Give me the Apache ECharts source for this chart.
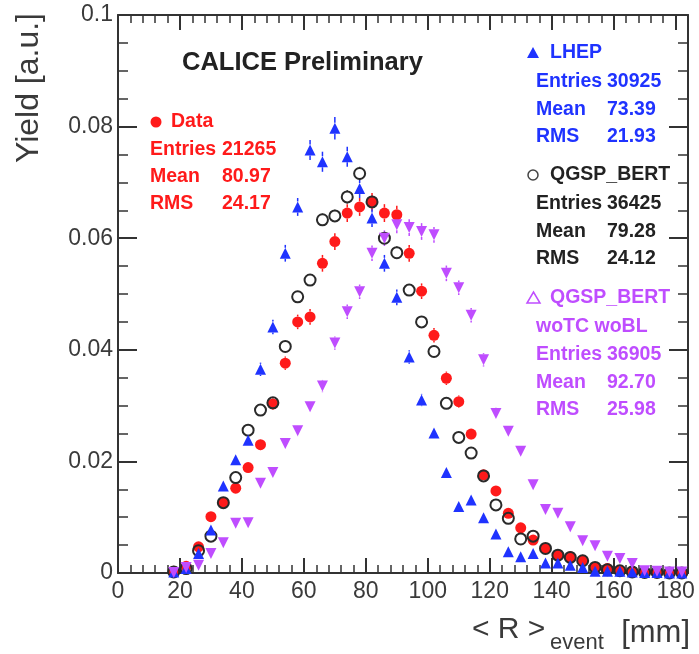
<!DOCTYPE html>
<html>
<head>
<meta charset="utf-8">
<script src="https://cdn.jsdelivr.net/npm/echarts@6/dist/echarts.min.js"></script>
<style>
  html, body { margin: 0; padding: 0; background: #ffffff; }
  #chart { width: 699px; height: 654px; }
</style>
</head>
<body>
<div id="chart"></div>
<script>
// Bin centres of the <R>_event histograms (4 mm bins)
const binCenters = [18, 22, 26, 30, 34, 38, 42, 46, 50, 54, 58, 62, 66, 70, 74, 78, 82, 86, 90, 94, 98,
  102, 106, 110, 114, 118, 122, 126, 130, 134, 138, 142, 146, 150, 154, 158, 162, 166, 170, 174, 178, 182];

// Data
const dataYield = [0.0003, 0.0012, 0.0047, 0.0101, 0.0126, 0.0152, 0.0189, 0.0230, 0.0303,
  0.0376, 0.0450, 0.0459, 0.0555, 0.0594, 0.0645, 0.0656, 0.0665,
  0.0645, 0.0642, 0.0573, 0.0505, 0.0426, 0.0349, 0.0307, 0.0249,
  0.0176, 0.0147, 0.0107, 0.0081, 0.0059, 0.0044, 0.0032, 0.0029,
  0.0023, 0.0010, 0.0008, 0.0004, 0.0003, 0.0002, 0.0001, 0.0001, 0.0000];
const dataErr = [0.0001, 0.0002, 0.0004, 0.0006, 0.0007, 0.0008, 0.0009, 0.0010, 0.0011, 0.0012,
  0.0013, 0.0014, 0.0015, 0.0015, 0.0016, 0.0016, 0.0016, 0.0016, 0.0016, 0.0015,
  0.0014, 0.0013, 0.0012, 0.0011, 0.0010, 0.0009, 0.0008, 0.0007, 0.0006, 0.0005,
  0.0004, 0.0004, 0.0003, 0.0003, 0.0002, 0.0002, 0.0001, 0.0001, 0.0001, 0, 0, 0];

// LHEP
const lhepYield = [0.0002, 0.0008, 0.0035, 0.0077, 0.0156, 0.0203, 0.0238, 0.0365, 0.0441,
  0.0573, 0.0656, 0.0758, 0.0737, 0.0797, 0.0746, 0.0689, 0.0636,
  0.0555, 0.0494, 0.0387, 0.0310, 0.0251, 0.0180, 0.0119, 0.0131,
  0.0099, 0.0070, 0.0038, 0.0029, 0.0035, 0.0018, 0.0018, 0.0014,
  0.0010, 0.0003, 0.0003, 0.0003, 0.0002, 0.0001, 0.0001, 0.0000, 0.0000];
const lhepErr = [0.0001, 0.0002, 0.0004, 0.0006, 0.0008, 0.0009, 0.0010, 0.0012, 0.0013, 0.0015,
  0.0016, 0.0018, 0.0018, 0.0020, 0.0018, 0.0017, 0.0016, 0.0015, 0.0014, 0.0012,
  0.0011, 0.0009, 0.0008, 0.0006, 0.0007, 0.0006, 0.0005, 0.0004, 0.0003, 0.0004,
  0.0002, 0.0002, 0.0002, 0.0001, 0.0001, 0.0001, 0.0001, 0, 0, 0, 0, 0];

// QGSP_BERT
const bertYield = [0.0002, 0.0008, 0.0040, 0.0066, 0.0126, 0.0171, 0.0256, 0.0292, 0.0305,
  0.0406, 0.0495, 0.0525, 0.0633, 0.0640, 0.0674, 0.0716, 0.0665,
  0.0600, 0.0574, 0.0507, 0.0450, 0.0397, 0.0304, 0.0243, 0.0215,
  0.0174, 0.0122, 0.0098, 0.0061, 0.0066, 0.0044, 0.0032, 0.0028,
  0.0022, 0.0010, 0.0006, 0.0004, 0.0002, 0.0001, 0.0001, 0.0000, 0.0000];
const bertErr = [0.0001, 0.0002, 0.0003, 0.0004, 0.0005, 0.0006, 0.0007, 0.0008, 0.0008, 0.0009,
  0.0010, 0.0010, 0.0011, 0.0011, 0.0012, 0.0012, 0.0011, 0.0011, 0.0011, 0.0010,
  0.0010, 0.0009, 0.0008, 0.0007, 0.0007, 0.0006, 0.0005, 0.0005, 0.0004, 0.0004,
  0.0003, 0.0003, 0.0002, 0.0002, 0.0001, 0.0001, 0.0001, 0.0001, 0, 0, 0, 0];

// QGSP_BERT woTC woBL
const woYield = [0.0001, 0.0010, 0.0014, 0.0035, 0.0054, 0.0089, 0.0090, 0.0161, 0.0180,
  0.0232, 0.0255, 0.0298, 0.0335, 0.0412, 0.0468, 0.0504, 0.0573,
  0.0600, 0.0624, 0.0619, 0.0612, 0.0606, 0.0537, 0.0511, 0.0462,
  0.0382, 0.0286, 0.0254, 0.0218, 0.0158, 0.0114, 0.0107, 0.0083,
  0.0058, 0.0049, 0.0030, 0.0026, 0.0017, 0.0004, 0.0003, 0.0002, 0.0002];
const woErr = [0, 0.0002, 0.0003, 0.0004, 0.0005, 0.0006, 0.0006, 0.0008, 0.0008, 0.0009,
  0.0010, 0.0010, 0.0011, 0.0012, 0.0013, 0.0013, 0.0014, 0.0014, 0.0015, 0.0015,
  0.0015, 0.0014, 0.0014, 0.0013, 0.0013, 0.0012, 0.0010, 0.0009, 0.0009, 0.0008,
  0.0006, 0.0006, 0.0005, 0.0004, 0.0004, 0.0003, 0.0003, 0.0002, 0.0001, 0.0001, 0.0001, 0.0001];

// Axis ranges and tick steps
const xRange = [0, 184];
const xMajorStep = 20;
const xMinorStep = 4;
const yRange = [0, 0.1];
const yMajorStep = 0.02;

// Statistics boxes
const statsData = { name: 'Data', entries: '21265', mean: '80.97', rms: '24.17' };
const statsLhep = { name: 'LHEP', entries: '30925', mean: '73.39', rms: '21.93' };
const statsBert = { name: 'QGSP_BERT', entries: '36425', mean: '79.28', rms: '24.12' };
const statsWo = { name: 'QGSP_BERT', name2: 'woTC woBL', entries: '36905', mean: '92.70', rms: '25.98' };

const FONT = '"Liberation Sans", Arial, Helvetica, sans-serif';
const RED = '#ff1a1a';
const BLUE = '#1f33ff';
const BLACK = '#222222';
const PURPLE = '#bf4dff';
const FRAME = '#333333';
const AXISTEXT = '#3a3a3a';

const pts = (ys) => binCenters.map((x, i) => [x, ys[i]]);
const errPts = (ys, es) => binCenters.map((x, i) => [x, ys[i], es[i]]);

// Vertical error bar drawn outside the marker
function errorBarSeries(ys, es, color) {
  return {
    type: 'custom',
    xAxisIndex: 0, yAxisIndex: 0,
    z: 2,
    clip: false,
    silent: true,
    data: errPts(ys, es),
    renderItem: function (params, api) {
      const x = api.value(0), y = api.value(1), e = api.value(2);
      const c = api.coord([x, y]);
      const top = api.coord([x, y + e]);
      const bot = api.coord([x, y - e]);
      const gap = 5.5;
      const children = [];
      if (c[1] - top[1] > gap) {
        children.push({ type: 'line', shape: { x1: c[0], y1: top[1], x2: c[0], y2: c[1] - gap },
          style: { stroke: color, lineWidth: 1.5 } });
      }
      if (bot[1] - c[1] > gap) {
        children.push({ type: 'line', shape: { x1: c[0], y1: c[1] + gap, x2: c[0], y2: bot[1] },
          style: { stroke: color, lineWidth: 1.5 } });
      }
      return { type: 'group', children: children };
    }
  };
}

function xAxisCfg(position, major) {
  return {
    type: 'value', position: position, min: xRange[0], max: xRange[1],
    interval: major ? xMajorStep : xMinorStep,
    axisLine: { show: major, onZero: false, lineStyle: { color: FRAME, width: 2 } },
    axisTick: { show: true, inside: true, length: major ? 15 : 8,
      lineStyle: { color: FRAME, width: major ? 2 : 1.5 } },
    axisLabel: { show: major && position === 'bottom', fontSize: 23, color: AXISTEXT,
      fontFamily: FONT, margin: 7, showMaxLabel: false },
    splitLine: { show: false }
  };
}

function yAxisCfg(position) {
  return {
    type: 'value', position: position, min: yRange[0], max: yRange[1], interval: yMajorStep,
    axisLine: { show: true, onZero: false, lineStyle: { color: FRAME, width: 2 } },
    axisTick: { show: true, inside: true, length: 19, lineStyle: { color: FRAME, width: 2 } },
    minorTick: { show: true, splitNumber: 4, length: 10, lineStyle: { color: FRAME, width: 1.5 } },
    axisLabel: { show: position === 'left', fontSize: 23, color: AXISTEXT, fontFamily: FONT, margin: 5 },
    splitLine: { show: false }
  };
}

function statText(x, y, text, color, size) {
  return { type: 'text', x: x, y: y, z: 100,
    style: { text: text, fill: color, font: 'bold ' + (size || 19.5) + 'px ' + FONT,
      align: 'left', verticalAlign: 'middle' } };
}

function statBlock(stats, color, xl, xv, yEntries, step) {
  return [
    statText(xl, yEntries, 'Entries', color), statText(xv, yEntries, stats.entries, color),
    statText(xl, yEntries + step, 'Mean', color), statText(xv, yEntries + step, stats.mean, color),
    statText(xl, yEntries + 2 * step, 'RMS', color), statText(xv, yEntries + 2 * step, stats.rms, color)
  ];
}

const graphics = [
  // Title
  { type: 'text', x: 182, y: 63, z: 100,
    style: { text: 'CALICE Preliminary', fill: '#222', font: 'bold 25.5px ' + FONT,
      align: 'left', verticalAlign: 'middle' } },
  // Y axis title
  { type: 'text', x: 29, y: 13, rotation: Math.PI / 2, z: 100,
    style: { text: 'Yield [a.u.]', fill: AXISTEXT, font: '32px ' + FONT,
      align: 'right', verticalAlign: 'middle' } },
  // X axis title: < R >_event [mm]
  { type: 'text', x: 472, y: 630, z: 100,
    style: { text: '< R >', fill: AXISTEXT, font: '30px ' + FONT, align: 'left', verticalAlign: 'middle' } },
  { type: 'text', x: 550, y: 643, z: 100,
    style: { text: 'event', fill: AXISTEXT, font: '22px ' + FONT, align: 'left', verticalAlign: 'middle' } },
  { type: 'text', x: 690, y: 633, z: 100,
    style: { text: '[mm]', fill: AXISTEXT, font: '31px ' + FONT, align: 'right', verticalAlign: 'middle' } },

  // Data box
  { type: 'circle', z: 100, shape: { cx: 156, cy: 122, r: 5.5 }, style: { fill: RED } },
  statText(171, 122, statsData.name, RED),
  ...statBlock(statsData, RED, 150, 222, 150, 27),

  // LHEP box
  { type: 'polygon', z: 100, shape: { points: [[527, 58], [539, 58], [533, 47]] }, style: { fill: BLUE } },
  statText(550, 53, statsLhep.name, BLUE),
  ...statBlock(statsLhep, BLUE, 536, 607, 82, 27.5),

  // QGSP_BERT box
  { type: 'circle', z: 100, shape: { cx: 533, cy: 175, r: 5 }, style: { fill: 'none', stroke: '#444', lineWidth: 1.5 } },
  statText(550, 175, statsBert.name, BLACK),
  ...statBlock(statsBert, BLACK, 536, 607, 204, 27.5),

  // QGSP_BERT woTC woBL box
  { type: 'polygon', z: 100, shape: { points: [[527, 303], [540, 303], [533.5, 292]] },
    style: { fill: 'none', stroke: PURPLE, lineWidth: 1.5 } },
  statText(550, 298, statsWo.name, PURPLE),
  statText(536, 327, statsWo.name2, PURPLE),
  ...statBlock(statsWo, PURPLE, 536, 607, 355, 27.5)
];

const chart = echarts.init(document.getElementById('chart'), null, { renderer: 'canvas' });
chart.setOption({
  animation: false,
  backgroundColor: '#ffffff',
  grid: { left: 118, right: 11, top: 15, bottom: 81, containLabel: false },
  xAxis: [
    xAxisCfg('bottom', true),
    xAxisCfg('top', true),
    xAxisCfg('bottom', false),
    xAxisCfg('top', false)
  ],
  yAxis: [yAxisCfg('left'), yAxisCfg('right')],
  graphic: graphics,
  series: [
    errorBarSeries(dataYield, dataErr, RED),
    errorBarSeries(lhepYield, lhepErr, BLUE),
    errorBarSeries(bertYield, bertErr, BLACK),
    errorBarSeries(woYield, woErr, PURPLE),
    { name: 'Data', type: 'scatter', xAxisIndex: 0, yAxisIndex: 0, z: 3, clip: false,
      symbol: 'circle', symbolSize: 11, data: pts(dataYield),
      itemStyle: { color: RED, opacity: 1 } },
    { name: 'QGSP_BERT', type: 'scatter', xAxisIndex: 0, yAxisIndex: 0, z: 4, clip: false,
      symbol: 'circle', symbolSize: 11, data: pts(bertYield),
      itemStyle: { color: 'rgba(0,0,0,0)', borderColor: '#2a2a2a', borderWidth: 2, opacity: 1 } },
    { name: 'LHEP', type: 'scatter', xAxisIndex: 0, yAxisIndex: 0, z: 5, clip: false,
      symbol: 'triangle', symbolSize: 11, data: pts(lhepYield),
      itemStyle: { color: BLUE, opacity: 1 } },
    { name: 'QGSP_BERT woTC woBL', type: 'scatter', xAxisIndex: 0, yAxisIndex: 0, z: 6, clip: false,
      symbol: 'triangle', symbolRotate: 180, symbolSize: 11, data: pts(woYield),
      itemStyle: { color: PURPLE, opacity: 1 } }
  ]
});
</script>
</body>
</html>
